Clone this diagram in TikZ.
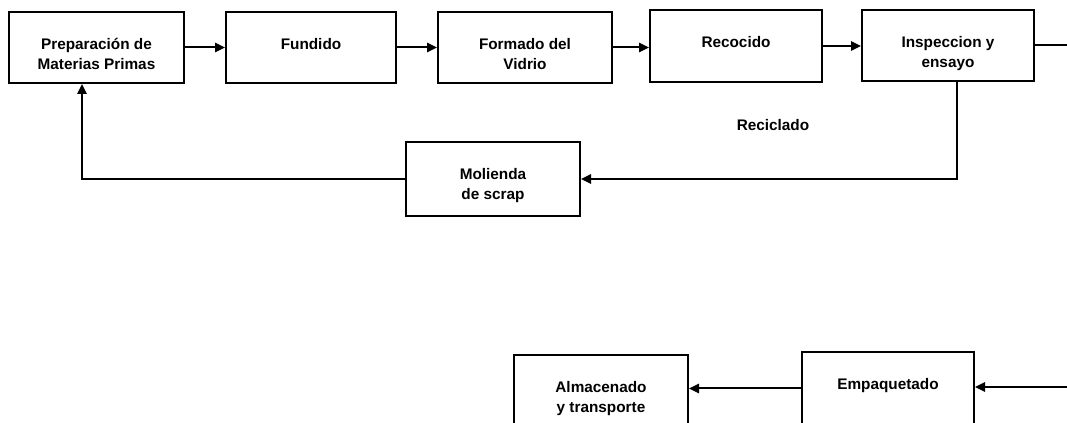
\documentclass[tikz,border=0pt]{standalone}
\usepackage{fontspec}
\setmainfont{Liberation Sans}
\usetikzlibrary{positioning,arrows.meta}

\begin{document}
\begin{tikzpicture}[x=0.75pt,y=-0.75pt,
  caja/.style={draw,line width=1.5pt,minimum height=53.25pt},
  texto/.style={font=\bfseries\fontsize{11.5}{15}\selectfont,align=center,inner sep=0pt},
  flecha/.style={line width=1.5pt,-{Triangle[length=7.5pt,width=7pt]}}]
\path[use as bounding box,clip] (0,0) rectangle (1067,423);
% fila de arriba
\node[caja,minimum width=131.25pt] (prep) at (96.5,47.5) {};
\node[caja,minimum width=127.5pt] (fund) at (311,47.5) {};
\node[caja,minimum width=130.5pt] (form) at (525,47.5) {};
\node[caja,minimum width=129pt,minimum height=54pt] (reco) at (736,46) {};
\node[caja,minimum width=129pt] (insp) at (948,45.5) {};
% reciclado
\node[caja,minimum width=130.5pt,minimum height=55.5pt] (mol) at (493,179) {};
\node[texto] (recic) at (773,125) {Reciclado};
% fila de abajo
\node[caja,minimum width=129pt,minimum height=54.75pt] (emp) at (888,388.5) {};
\node[caja,minimum width=130.5pt,minimum height=54.75pt] (alm) at (601,391.5) {};
\coordinate (salida) at (1075,45.5);
\coordinate (entrada) at (1075,387);
% textos
\node[texto,below=18.5pt of prep.north] (prep-t) {\strut Preparación de\\Materias Primas};
\node[texto,below=18.5pt of fund.north] (fund-t) {\strut Fundido};
\node[texto,below=18.5pt of form.north] (form-t) {\strut Formado del\\Vidrio};
\node[texto,below=18.5pt of reco.north] (reco-t) {\strut Recocido};
\node[texto,below=18.5pt of insp.north] (insp-t) {\strut Inspeccion y\\ensayo};
\node[texto,below=18.5pt of mol.north] (mol-t) {\strut Molienda\\de scrap};
\node[texto,below=18.5pt of emp.north] (emp-t) {\strut Empaquetado};
\node[texto,below=18.5pt of alm.north] (alm-t) {\strut Almacenado\\y transporte};
% flechas
\draw[flecha] (prep) -- (fund);
\draw[flecha] (fund) -- (form);
\draw[flecha] (form.east) -- (form.east -| reco.west);
\draw[flecha] (reco.east) -- (reco.east -| insp.west);
\draw[line width=1.5pt] (insp.east) -- (salida);
\draw[flecha] ([xshift=6.75pt]insp.south) |- (mol.east);
\draw[flecha] (mol.west) -| ([xshift=-10.9pt]prep.south);
\draw[flecha] (entrada) -- (entrada -| emp.east);
\draw[flecha] (emp.west) -- (emp.west -| alm.east);
\end{tikzpicture}
\end{document}
